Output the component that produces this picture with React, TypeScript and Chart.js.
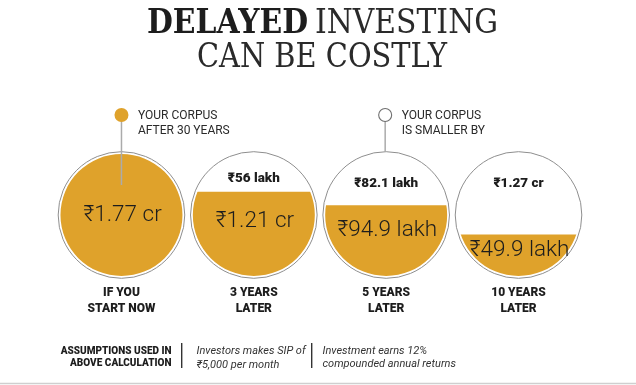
import React, { useEffect, useRef } from "react";
import { Chart, registerables } from "chart.js";

Chart.register(...registerables);

// ---- data ----
const titleBold = "DELAYED";
const titleLight = "INVESTING";
const titleLine2 = "CAN BE COSTLY";
const categories = [
  ["IF YOU", "START NOW"],
  ["3 YEARS", "LATER"],
  ["5 YEARS", "LATER"],
  ["10 YEARS", "LATER"],
];
const corpusLabels = ["₹1.77 cr", "₹1.21 cr", "₹94.9 lakh", "₹49.9 lakh"];
const shortfallLabels = ["", "₹56 lakh", "₹82.1 lakh", "₹1.27 cr"];
// share of each circle filled (percent of its height)
const fillLevel = [100, 69, 58, 34];
const corpusNote = ["YOUR CORPUS", "AFTER 30 YEARS"];
const shortfallNote = ["YOUR CORPUS", "IS SMALLER BY"];
const assumptionHead = ["ASSUMPTIONS USED IN", "ABOVE CALCULATION"];
const assumption1 = ["Investors makes SIP of", "₹5,000 per month"];
const assumption2 = ["Investment earns 12%", "compounded annual returns"];

const ORANGE = "#DFA22B";
const INK = "#1d1d1d";

function drawFit(ctx: CanvasRenderingContext2D, text: string, font: string, x: number, baseline: number, width: number) {
  ctx.save();
  ctx.font = font;
  const w = ctx.measureText(text).width;
  ctx.translate(x, baseline);
  ctx.scale(width / w, 1);
  ctx.textAlign = "left";
  ctx.textBaseline = "alphabetic";
  ctx.fillText(text, 0, 0);
  ctx.restore();
}

const circlePlugin = {
  id: "circles",
  beforeDatasetsDraw(chart: any) {
    const { ctx, chartArea } = chart;
    const meta = chart.getDatasetMeta(0);
    const cy = (chartArea.top + chartArea.bottom) / 2;
    const r = (chartArea.bottom - chartArea.top) / 2;
    ctx.save();
    ctx.beginPath();
    meta.data.forEach((b: any) => {
      ctx.moveTo(b.x + r, cy);
      ctx.arc(b.x, cy, r, 0, Math.PI * 2);
    });
    ctx.clip();
  },
  afterDatasetsDraw(chart: any) {
    const { ctx, chartArea } = chart;
    ctx.restore();
    const meta = chart.getDatasetMeta(0);
    const cy = (chartArea.top + chartArea.bottom) / 2;
    const r = (chartArea.bottom - chartArea.top) / 2;
    ctx.save();
    ctx.strokeStyle = "#8e8e8e";
    ctx.lineWidth = 1;
    meta.data.forEach((b: any) => {
      ctx.beginPath();
      ctx.arc(b.x, cy, r + 2.3, 0, Math.PI * 2);
      ctx.stroke();
    });
    ctx.restore();
  },
  afterDraw(chart: any) {
    const { ctx, chartArea } = chart;
    const meta = chart.getDatasetMeta(0);
    const cy = (chartArea.top + chartArea.bottom) / 2;
    const r = (chartArea.bottom - chartArea.top) / 2;
    const bottom = chartArea.bottom;
    ctx.save();
    ctx.fillStyle = INK;

    // title
    drawFit(ctx, titleBold, 'bold 34px "DejaVu Serif"', 147, 33, 161);
    ctx.fillStyle = "#2a2a2a";
    drawFit(ctx, titleLight, '34px "DejaVu Serif"', 315, 33, 183);
    drawFit(ctx, titleLine2, '34px "DejaVu Serif"', 197, 67, 250);

    // leader lines + markers
    const b0 = meta.data[0];
    const b2 = meta.data[2];
    const dotY = 115;
    ctx.strokeStyle = "#ababab";
    ctx.lineWidth = 1.5;
    ctx.beginPath();
    ctx.moveTo(b0.x, dotY);
    ctx.lineTo(b0.x, 185);
    ctx.stroke();
    ctx.beginPath();
    ctx.moveTo(b2.x - 1, dotY);
    ctx.lineTo(b2.x - 1, cy - r - 2.3);
    ctx.stroke();
    ctx.fillStyle = ORANGE;
    ctx.beginPath();
    ctx.arc(b0.x, dotY, 7, 0, Math.PI * 2);
    ctx.fill();
    ctx.fillStyle = "#fff";
    ctx.strokeStyle = "#6f6f6f";
    ctx.lineWidth = 1.1;
    ctx.beginPath();
    ctx.arc(b2.x - 1, dotY, 6.5, 0, Math.PI * 2);
    ctx.fill();
    ctx.stroke();

    ctx.fillStyle = "#2a2a2a";
    ctx.font = '12px Roboto';
    ctx.textAlign = "left";
    ctx.textBaseline = "alphabetic";
    corpusNote.forEach((t, i) => ctx.fillText(t, b0.x + 16.5, 118.5 + i * 15));
    shortfallNote.forEach((t, i) => ctx.fillText(t, b2.x + 15.5, 118.5 + i * 15));

    // circle texts
    ctx.textAlign = "center";
    meta.data.forEach((b: any, i: number) => {
      const top = b.y;
      const h = bottom - top;
      const level = fillLevel[i];
      const valueCenter = level >= 100 ? cy - 2 : top + 0.31 * h + 1;
      ctx.fillStyle = INK;
      ctx.font = '300 22.5px Roboto';
      ctx.fillText(corpusLabels[i], b.x + 1, valueCenter + 8);
      if (shortfallLabels[i]) {
        ctx.font = '900 13.5px Roboto';
        const sy = Math.min(top - 15, 182);
        ctx.fillText(shortfallLabels[i], b.x, sy + 4.8);
      }
      ctx.font = '900 12px Roboto';
      categories[i].forEach((t, j) => ctx.fillText(t, b.x, bottom + 20 + j * 15.6));
    });

    // footer
    ctx.fillStyle = INK;
    ctx.font = '900 10px Roboto';
    ctx.textAlign = "right";
    assumptionHead.forEach((t, i) => ctx.fillText(t, 171.5, 353.8 + i * 12.4));
    ctx.textAlign = "left";
    ctx.fillStyle = "#333";
    ctx.font = 'italic 11px Roboto';
    assumption1.forEach((t, i) => ctx.fillText(t, 196.5, 354 + i * 13.5));
    assumption2.forEach((t, i) => ctx.fillText(t, 322.5, 353.5 + i * 13.5));
    ctx.strokeStyle = "#333";
    ctx.lineWidth = 1.4;
    [181.7, 311.7].forEach((x) => {
      ctx.beginPath();
      ctx.moveTo(x, 343);
      ctx.lineTo(x, 368);
      ctx.stroke();
    });
    ctx.strokeStyle = "#cfcfcf";
    ctx.lineWidth = 1.5;
    ctx.beginPath();
    ctx.moveTo(0, 383.5);
    ctx.lineTo(636, 383.5);
    ctx.stroke();
    ctx.restore();
  },
};

export default function App() {
  const ref = useRef<HTMLCanvasElement | null>(null);
  useEffect(() => {
    if (!ref.current) return;
    const chart = new Chart(ref.current, {
      type: "bar",
      data: {
        labels: categories.map((c) => c.join(" ")),
        datasets: [
          {
            data: fillLevel,
            backgroundColor: ORANGE,
            borderWidth: 0,
            categoryPercentage: 1,
            barPercentage: 0.96,
          },
        ],
      },
      options: {
        responsive: false,
        animation: false,
        events: [],
        layout: { padding: { left: 55.3, right: 51.3, top: 154, bottom: 109 } },
        plugins: { legend: { display: false }, tooltip: { enabled: false }, title: { display: false } },
        scales: {
          x: { display: false },
          y: { display: false, min: 0, max: 100 },
        },
      },
      plugins: [circlePlugin],
    });
    return () => chart.destroy();
  }, []);
  return (
    <div style={{ position: "absolute", left: 0, top: 0, width: 636, height: 385, background: "#fff" }}>
      <canvas ref={ref} width={636} height={385} />
    </div>
  );
}
